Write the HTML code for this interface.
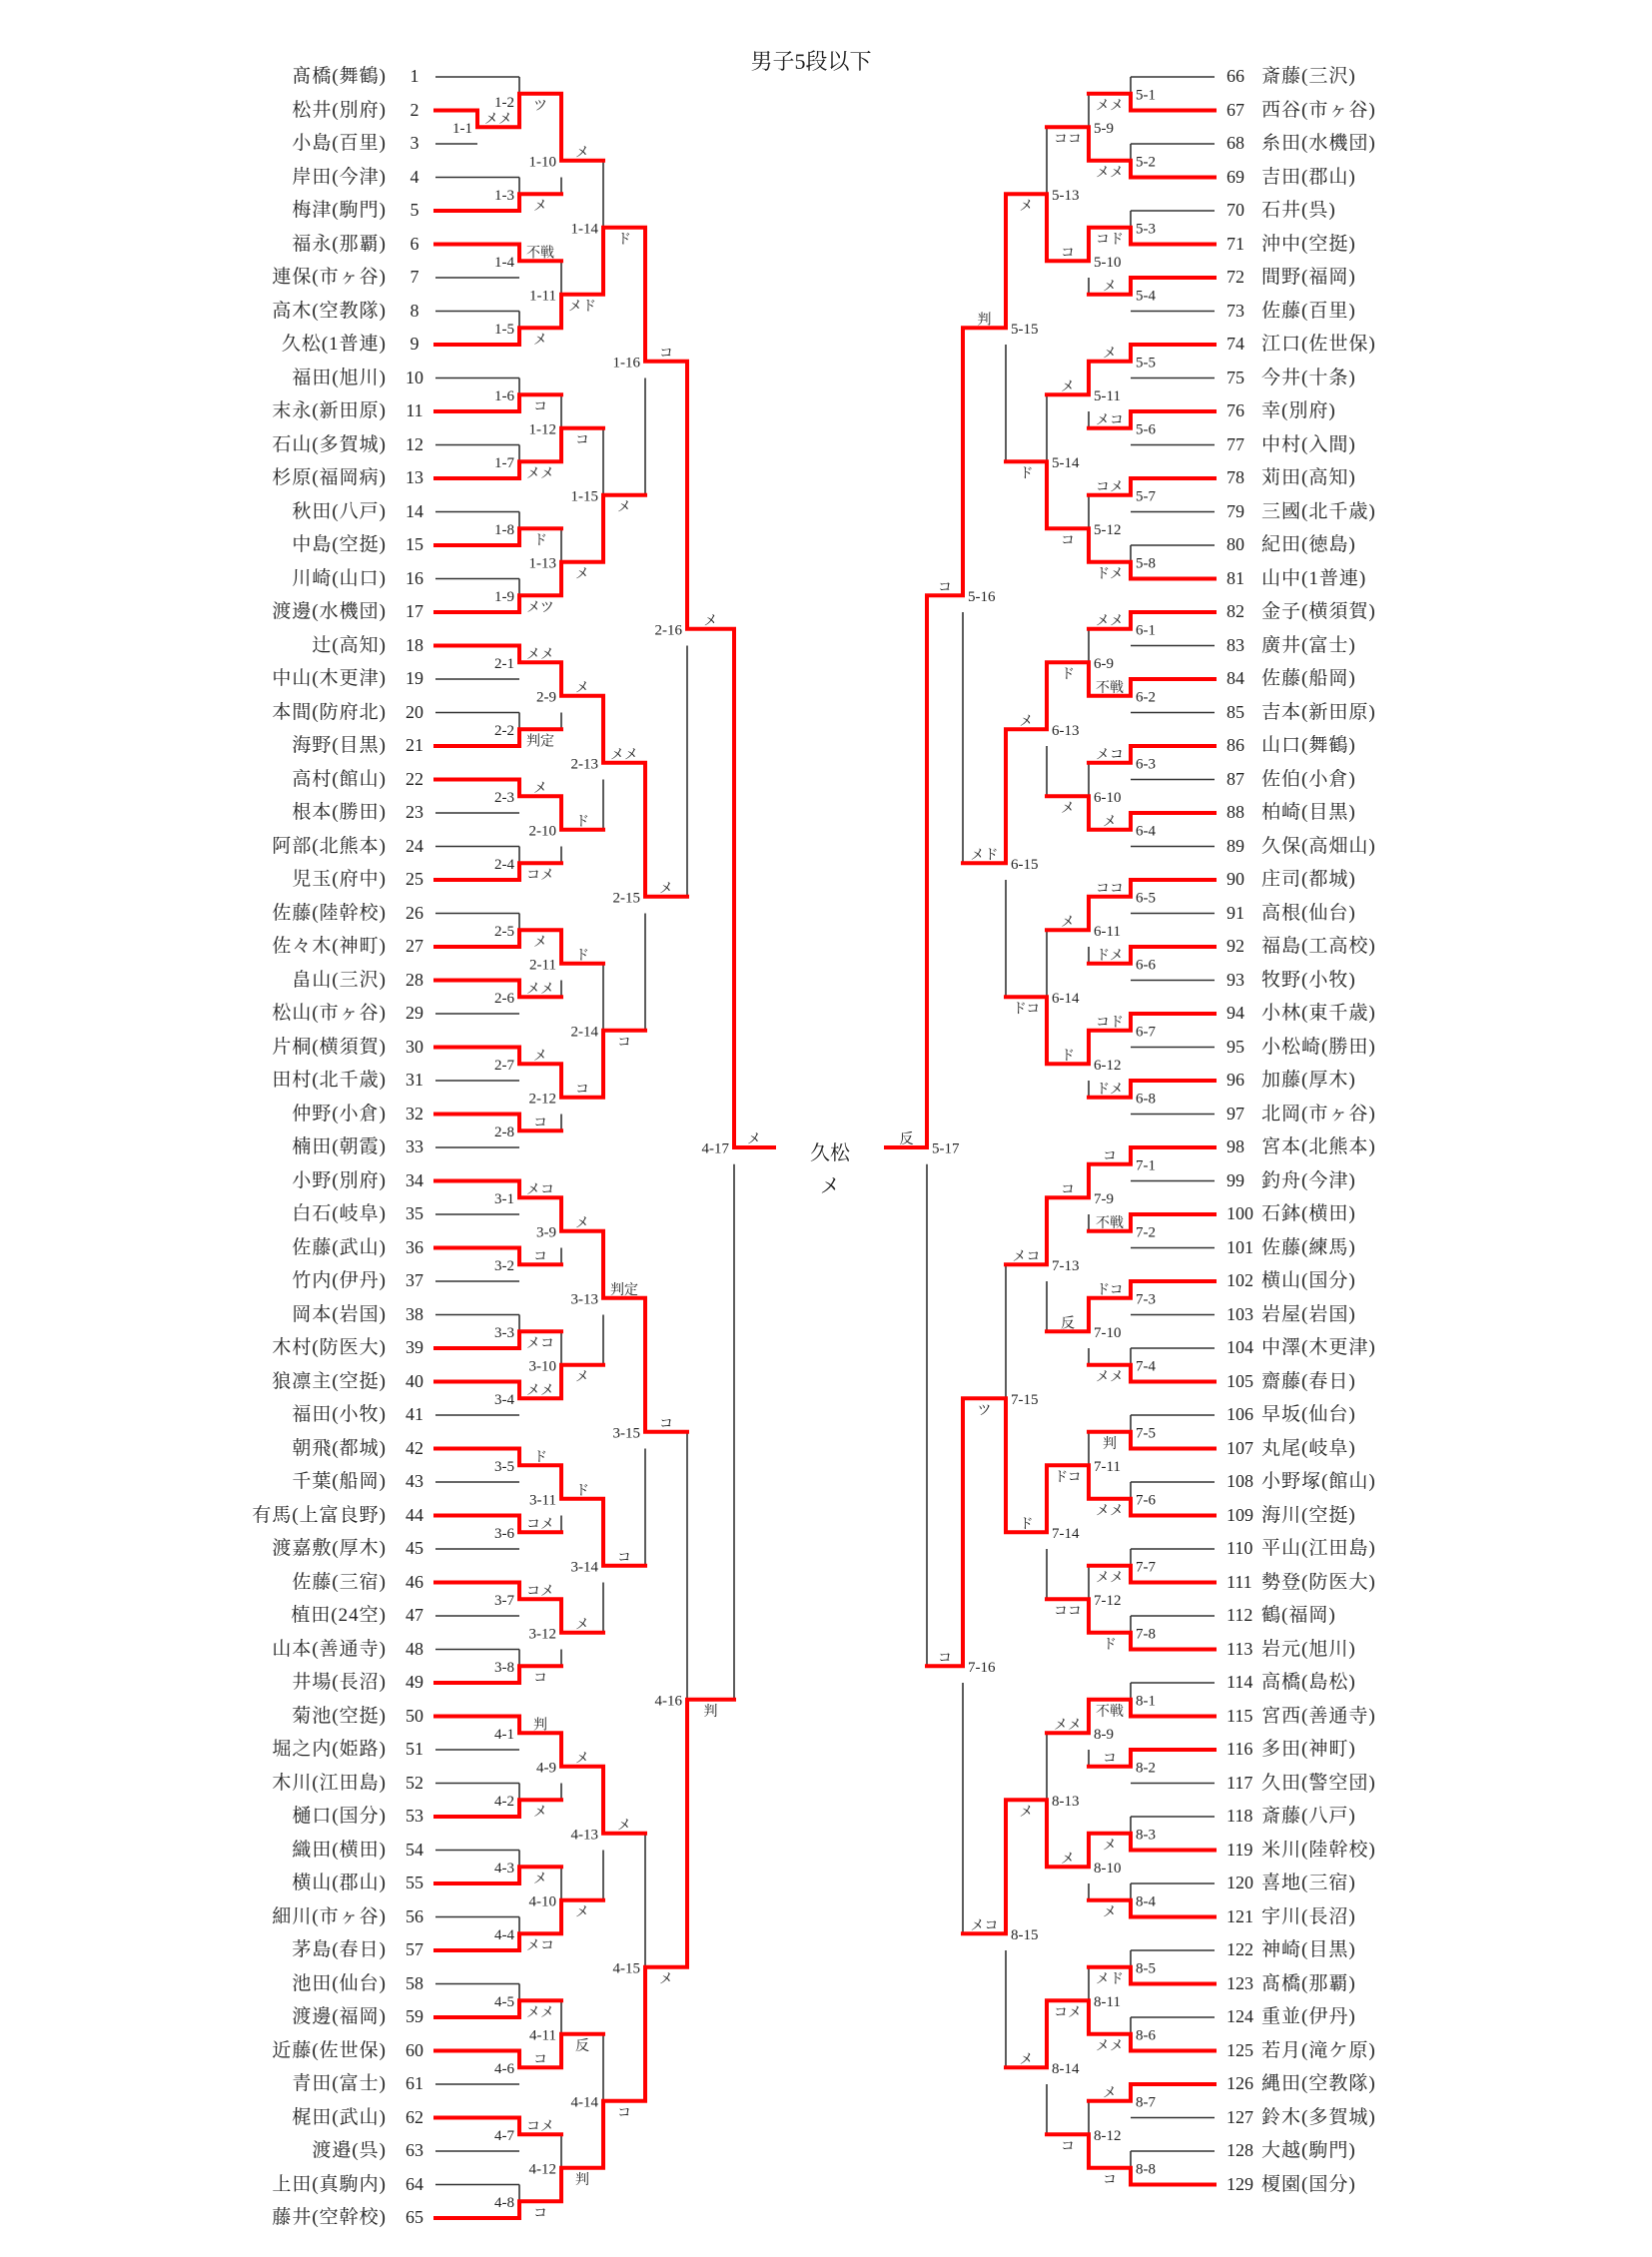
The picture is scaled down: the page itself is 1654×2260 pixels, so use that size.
<!DOCTYPE html>
<html><head><meta charset="utf-8">
<style>
html,body{margin:0;padding:0;background:#fff;}
#wrap{position:relative;width:1654px;height:2260px;overflow:hidden;background:#fff;font-family:"Liberation Serif","Noto Serif CJK SC",serif;color:#222;}
.col{position:absolute;top:60px;font-size:19px;line-height:33.5px;white-space:pre;}
#ln{right:1267px;text-align:right;letter-spacing:1px;}
#lnum{left:395px;width:40px;text-align:center;font-size:18px;}
#rnum{left:1228px;font-size:18px;}
#rn{left:1263px;letter-spacing:1px;}
svg{position:absolute;left:0;top:0;}
svg text{font-family:"Liberation Serif","Noto Serif CJK SC",serif;fill:#222;}
.a{font-size:15px;}
.b{font-size:14px;text-anchor:middle;}
</style></head><body><div id="wrap">
<div class="col" id="ln">髙橋(舞鶴)
松井(別府)
小島(百里)
岸田(今津)
梅津(駒門)
福永(那覇)
連保(市ヶ谷)
高木(空教隊)
久松(1普連)
福田(旭川)
末永(新田原)
石山(多賀城)
杉原(福岡病)
秋田(八戸)
中島(空挺)
川崎(山口)
渡邊(水機団)
辻(高知)
中山(木更津)
本間(防府北)
海野(目黒)
高村(館山)
根本(勝田)
阿部(北熊本)
児玉(府中)
佐藤(陸幹校)
佐々木(神町)
畠山(三沢)
松山(市ヶ谷)
片桐(横須賀)
田村(北千歳)
仲野(小倉)
楠田(朝霞)
小野(別府)
白石(岐阜)
佐藤(武山)
竹内(伊丹)
岡本(岩国)
木村(防医大)
狼凛主(空挺)
福田(小牧)
朝飛(都城)
千葉(船岡)
有馬(上富良野)
渡嘉敷(厚木)
佐藤(三宿)
植田(24空)
山本(善通寺)
井場(長沼)
菊池(空挺)
堀之内(姫路)
木川(江田島)
樋口(国分)
織田(横田)
横山(郡山)
細川(市ヶ谷)
茅島(春日)
池田(仙台)
渡邊(福岡)
近藤(佐世保)
青田(富士)
梶田(武山)
渡邉(呉)
上田(真駒内)
藤井(空幹校)</div>
<div class="col" id="lnum">1
2
3
4
5
6
7
8
9
10
11
12
13
14
15
16
17
18
19
20
21
22
23
24
25
26
27
28
29
30
31
32
33
34
35
36
37
38
39
40
41
42
43
44
45
46
47
48
49
50
51
52
53
54
55
56
57
58
59
60
61
62
63
64
65</div>
<div class="col" id="rnum">66
67
68
69
70
71
72
73
74
75
76
77
78
79
80
81
82
83
84
85
86
87
88
89
90
91
92
93
94
95
96
97
98
99
100
101
102
103
104
105
106
107
108
109
110
111
112
113
114
115
116
117
118
119
120
121
122
123
124
125
126
127
128
129</div>
<div class="col" id="rn">斎藤(三沢)
西谷(市ヶ谷)
糸田(水機団)
吉田(郡山)
石井(呉)
沖中(空挺)
間野(福岡)
佐藤(百里)
江口(佐世保)
今井(十条)
幸(別府)
中村(入間)
苅田(高知)
三國(北千歳)
紀田(徳島)
山中(1普連)
金子(横須賀)
廣井(富士)
佐藤(船岡)
吉本(新田原)
山口(舞鶴)
佐伯(小倉)
柏崎(目黒)
久保(高畑山)
庄司(都城)
高根(仙台)
福島(工高校)
牧野(小牧)
小林(東千歳)
小松崎(勝田)
加藤(厚木)
北岡(市ヶ谷)
宮本(北熊本)
釣舟(今津)
石鉢(横田)
佐藤(練馬)
横山(国分)
岩屋(岩国)
中澤(木更津)
齋藤(春日)
早坂(仙台)
丸尾(岐阜)
小野塚(館山)
海川(空挺)
平山(江田島)
勢登(防医大)
鶴(福岡)
岩元(旭川)
高橋(島松)
宮西(善通寺)
多田(神町)
久田(警空団)
斎藤(八戸)
米川(陸幹校)
喜地(三宿)
宇川(長沼)
神崎(目黒)
髙橋(那覇)
重並(伊丹)
若月(滝ケ原)
縄田(空教隊)
鈴木(多賀城)
大越(駒門)
榎園(国分)</div>
<svg id="sv" width="1654" height="2260" xmlns="http://www.w3.org/2000/svg">
<g id="lines"></g>
<text x="812" y="69" font-size="22" text-anchor="middle">男子5段以下</text>
<text x="831" y="1161" font-size="20" text-anchor="middle">久松</text>
<text x="831" y="1194" font-size="20" text-anchor="middle">メ</text>
<g id="labels">
<text id="a1-1" class="a">1-1</text><text id="b1-1" class="b">メメ</text>
<text id="a1-2" class="a">1-2</text><text id="b1-2" class="b">ツ</text>
<text id="a1-3" class="a">1-3</text><text id="b1-3" class="b">メ</text>
<text id="a1-4" class="a">1-4</text><text id="b1-4" class="b">不戦</text>
<text id="a1-5" class="a">1-5</text><text id="b1-5" class="b">メ</text>
<text id="a1-6" class="a">1-6</text><text id="b1-6" class="b">コ</text>
<text id="a1-7" class="a">1-7</text><text id="b1-7" class="b">メメ</text>
<text id="a1-8" class="a">1-8</text><text id="b1-8" class="b">ド</text>
<text id="a1-9" class="a">1-9</text><text id="b1-9" class="b">メツ</text>
<text id="a1-10" class="a">1-10</text><text id="b1-10" class="b">メ</text>
<text id="a1-11" class="a">1-11</text><text id="b1-11" class="b">メド</text>
<text id="a1-12" class="a">1-12</text><text id="b1-12" class="b">コ</text>
<text id="a1-13" class="a">1-13</text><text id="b1-13" class="b">メ</text>
<text id="a1-14" class="a">1-14</text><text id="b1-14" class="b">ド</text>
<text id="a1-15" class="a">1-15</text><text id="b1-15" class="b">メ</text>
<text id="a1-16" class="a">1-16</text><text id="b1-16" class="b">コ</text>
<text id="a2-1" class="a">2-1</text><text id="b2-1" class="b">メメ</text>
<text id="a2-2" class="a">2-2</text><text id="b2-2" class="b">判定</text>
<text id="a2-3" class="a">2-3</text><text id="b2-3" class="b">メ</text>
<text id="a2-4" class="a">2-4</text><text id="b2-4" class="b">コメ</text>
<text id="a2-5" class="a">2-5</text><text id="b2-5" class="b">メ</text>
<text id="a2-6" class="a">2-6</text><text id="b2-6" class="b">メメ</text>
<text id="a2-7" class="a">2-7</text><text id="b2-7" class="b">メ</text>
<text id="a2-8" class="a">2-8</text><text id="b2-8" class="b">コ</text>
<text id="a2-9" class="a">2-9</text><text id="b2-9" class="b">メ</text>
<text id="a2-10" class="a">2-10</text><text id="b2-10" class="b">ド</text>
<text id="a2-11" class="a">2-11</text><text id="b2-11" class="b">ド</text>
<text id="a2-12" class="a">2-12</text><text id="b2-12" class="b">コ</text>
<text id="a2-13" class="a">2-13</text><text id="b2-13" class="b">メメ</text>
<text id="a2-14" class="a">2-14</text><text id="b2-14" class="b">コ</text>
<text id="a2-15" class="a">2-15</text><text id="b2-15" class="b">メ</text>
<text id="a2-16" class="a">2-16</text><text id="b2-16" class="b">メ</text>
<text id="a3-1" class="a">3-1</text><text id="b3-1" class="b">メコ</text>
<text id="a3-2" class="a">3-2</text><text id="b3-2" class="b">コ</text>
<text id="a3-3" class="a">3-3</text><text id="b3-3" class="b">メコ</text>
<text id="a3-4" class="a">3-4</text><text id="b3-4" class="b">メメ</text>
<text id="a3-5" class="a">3-5</text><text id="b3-5" class="b">ド</text>
<text id="a3-6" class="a">3-6</text><text id="b3-6" class="b">コメ</text>
<text id="a3-7" class="a">3-7</text><text id="b3-7" class="b">コメ</text>
<text id="a3-8" class="a">3-8</text><text id="b3-8" class="b">コ</text>
<text id="a3-9" class="a">3-9</text><text id="b3-9" class="b">メ</text>
<text id="a3-10" class="a">3-10</text><text id="b3-10" class="b">メ</text>
<text id="a3-11" class="a">3-11</text><text id="b3-11" class="b">ド</text>
<text id="a3-12" class="a">3-12</text><text id="b3-12" class="b">メ</text>
<text id="a3-13" class="a">3-13</text><text id="b3-13" class="b">判定</text>
<text id="a3-14" class="a">3-14</text><text id="b3-14" class="b">コ</text>
<text id="a3-15" class="a">3-15</text><text id="b3-15" class="b">コ</text>
<text id="a4-1" class="a">4-1</text><text id="b4-1" class="b">判</text>
<text id="a4-2" class="a">4-2</text><text id="b4-2" class="b">メ</text>
<text id="a4-3" class="a">4-3</text><text id="b4-3" class="b">メ</text>
<text id="a4-4" class="a">4-4</text><text id="b4-4" class="b">メコ</text>
<text id="a4-5" class="a">4-5</text><text id="b4-5" class="b">メメ</text>
<text id="a4-6" class="a">4-6</text><text id="b4-6" class="b">コ</text>
<text id="a4-7" class="a">4-7</text><text id="b4-7" class="b">コメ</text>
<text id="a4-8" class="a">4-8</text><text id="b4-8" class="b">コ</text>
<text id="a4-9" class="a">4-9</text><text id="b4-9" class="b">メ</text>
<text id="a4-10" class="a">4-10</text><text id="b4-10" class="b">メ</text>
<text id="a4-11" class="a">4-11</text><text id="b4-11" class="b">反</text>
<text id="a4-12" class="a">4-12</text><text id="b4-12" class="b">判</text>
<text id="a4-13" class="a">4-13</text><text id="b4-13" class="b">メ</text>
<text id="a4-14" class="a">4-14</text><text id="b4-14" class="b">コ</text>
<text id="a4-15" class="a">4-15</text><text id="b4-15" class="b">メ</text>
<text id="a4-16" class="a">4-16</text><text id="b4-16" class="b">判</text>
<text id="a4-17" class="a">4-17</text><text id="b4-17" class="b">メ</text>
<text id="a5-1" class="a">5-1</text><text id="b5-1" class="b">メメ</text>
<text id="a5-2" class="a">5-2</text><text id="b5-2" class="b">メメ</text>
<text id="a5-3" class="a">5-3</text><text id="b5-3" class="b">コド</text>
<text id="a5-4" class="a">5-4</text><text id="b5-4" class="b">メ</text>
<text id="a5-5" class="a">5-5</text><text id="b5-5" class="b">メ</text>
<text id="a5-6" class="a">5-6</text><text id="b5-6" class="b">メコ</text>
<text id="a5-7" class="a">5-7</text><text id="b5-7" class="b">コメ</text>
<text id="a5-8" class="a">5-8</text><text id="b5-8" class="b">ドメ</text>
<text id="a5-9" class="a">5-9</text><text id="b5-9" class="b">ココ</text>
<text id="a5-10" class="a">5-10</text><text id="b5-10" class="b">コ</text>
<text id="a5-11" class="a">5-11</text><text id="b5-11" class="b">メ</text>
<text id="a5-12" class="a">5-12</text><text id="b5-12" class="b">コ</text>
<text id="a5-13" class="a">5-13</text><text id="b5-13" class="b">メ</text>
<text id="a5-14" class="a">5-14</text><text id="b5-14" class="b">ド</text>
<text id="a5-15" class="a">5-15</text><text id="b5-15" class="b">判</text>
<text id="a5-16" class="a">5-16</text><text id="b5-16" class="b">コ</text>
<text id="a5-17" class="a">5-17</text><text id="b5-17" class="b">反</text>
<text id="a6-1" class="a">6-1</text><text id="b6-1" class="b">メメ</text>
<text id="a6-2" class="a">6-2</text><text id="b6-2" class="b">不戦</text>
<text id="a6-3" class="a">6-3</text><text id="b6-3" class="b">メコ</text>
<text id="a6-4" class="a">6-4</text><text id="b6-4" class="b">メ</text>
<text id="a6-5" class="a">6-5</text><text id="b6-5" class="b">ココ</text>
<text id="a6-6" class="a">6-6</text><text id="b6-6" class="b">ドメ</text>
<text id="a6-7" class="a">6-7</text><text id="b6-7" class="b">コド</text>
<text id="a6-8" class="a">6-8</text><text id="b6-8" class="b">ドメ</text>
<text id="a6-9" class="a">6-9</text><text id="b6-9" class="b">ド</text>
<text id="a6-10" class="a">6-10</text><text id="b6-10" class="b">メ</text>
<text id="a6-11" class="a">6-11</text><text id="b6-11" class="b">メ</text>
<text id="a6-12" class="a">6-12</text><text id="b6-12" class="b">ド</text>
<text id="a6-13" class="a">6-13</text><text id="b6-13" class="b">メ</text>
<text id="a6-14" class="a">6-14</text><text id="b6-14" class="b">ドコ</text>
<text id="a6-15" class="a">6-15</text><text id="b6-15" class="b">メド</text>
<text id="a7-1" class="a">7-1</text><text id="b7-1" class="b">コ</text>
<text id="a7-2" class="a">7-2</text><text id="b7-2" class="b">不戦</text>
<text id="a7-3" class="a">7-3</text><text id="b7-3" class="b">ドコ</text>
<text id="a7-4" class="a">7-4</text><text id="b7-4" class="b">メメ</text>
<text id="a7-5" class="a">7-5</text><text id="b7-5" class="b">判</text>
<text id="a7-6" class="a">7-6</text><text id="b7-6" class="b">メメ</text>
<text id="a7-7" class="a">7-7</text><text id="b7-7" class="b">メメ</text>
<text id="a7-8" class="a">7-8</text><text id="b7-8" class="b">ド</text>
<text id="a7-9" class="a">7-9</text><text id="b7-9" class="b">コ</text>
<text id="a7-10" class="a">7-10</text><text id="b7-10" class="b">反</text>
<text id="a7-11" class="a">7-11</text><text id="b7-11" class="b">ドコ</text>
<text id="a7-12" class="a">7-12</text><text id="b7-12" class="b">ココ</text>
<text id="a7-13" class="a">7-13</text><text id="b7-13" class="b">メコ</text>
<text id="a7-14" class="a">7-14</text><text id="b7-14" class="b">ド</text>
<text id="a7-15" class="a">7-15</text><text id="b7-15" class="b">ツ</text>
<text id="a7-16" class="a">7-16</text><text id="b7-16" class="b">コ</text>
<text id="a8-1" class="a">8-1</text><text id="b8-1" class="b">不戦</text>
<text id="a8-2" class="a">8-2</text><text id="b8-2" class="b">コ</text>
<text id="a8-3" class="a">8-3</text><text id="b8-3" class="b">メ</text>
<text id="a8-4" class="a">8-4</text><text id="b8-4" class="b">メ</text>
<text id="a8-5" class="a">8-5</text><text id="b8-5" class="b">メド</text>
<text id="a8-6" class="a">8-6</text><text id="b8-6" class="b">メメ</text>
<text id="a8-7" class="a">8-7</text><text id="b8-7" class="b">メ</text>
<text id="a8-8" class="a">8-8</text><text id="b8-8" class="b">コ</text>
<text id="a8-9" class="a">8-9</text><text id="b8-9" class="b">メメ</text>
<text id="a8-10" class="a">8-10</text><text id="b8-10" class="b">メ</text>
<text id="a8-11" class="a">8-11</text><text id="b8-11" class="b">コメ</text>
<text id="a8-12" class="a">8-12</text><text id="b8-12" class="b">コ</text>
<text id="a8-13" class="a">8-13</text><text id="b8-13" class="b">メ</text>
<text id="a8-14" class="a">8-14</text><text id="b8-14" class="b">メ</text>
<text id="a8-15" class="a">8-15</text><text id="b8-15" class="b">メコ</text>
</g>
</svg>
</div>
<script>
(function(){
var WIN={
1:[0,1,1,0,1,1,1,1,1,0,1,1,1,1,1,0],
2:[0,1,0,1,1,0,0,0,0,0,0,0,0,1,0,0],
3:[0,0,1,0,0,0,0,1,0,1,0,0,0,0,0],
4:[0,1,1,1,1,0,0,1,0,1,1,1,0,1,1,1,0],
5:[1,1,1,0,0,0,0,1,1,0,0,1,1,1,0,0,0],
6:[0,0,0,0,0,0,0,0,1,1,0,0,0,1,0],
7:[0,0,0,1,1,1,1,1,0,0,1,1,0,0,1,0],
8:[1,0,1,1,1,1,0,1,0,0,1,1,1,0,0]};
var XL={0:436,0.5:478,1:520,2:562,3:604,4:646,5:688,6:735,7:775};
var XR={0:1216,1:1132,2:1090,3:1048,4:1007,5:964,6:928,7:887};
function Y(r){return 77+(r-1)*33.5;}
var M={},order=[];
function p(n){return {p:n,row:n<=65?n:n-65,lvl:0};}
function rowOf(c){return typeof c==='string'?M[c].row:c.row;}
function lvlOf(c){return typeof c==='string'?M[c].lvl:0;}
function mk(id,a,b,lvl,side,ro){
  var s=id.split('-'),blk=+s[0],idx=+s[1];
  var row=(ro!==undefined)?ro:(rowOf(a)+rowOf(b))/2;
  M[id]={id:id,a:a,b:b,lvl:lvl,side:side,w:WIN[blk][idx-1],row:row};order.push(id);
}
function block(k,s,side){
  var i;
  for(i=0;i<8;i++)mk(k+'-'+(i+1),p(s+2*i),p(s+2*i+1),1,side);
  for(i=0;i<4;i++)mk(k+'-'+(9+i),k+'-'+(2*i+1),k+'-'+(2*i+2),2,side);
  mk(k+'-13',k+'-9',k+'-10',3,side);mk(k+'-14',k+'-11',k+'-12',3,side);
  mk(k+'-15',k+'-13',k+'-14',4,side);
}
mk('1-1',p(2),p(3),0.5,'L');mk('1-2',p(1),'1-1',1,'L',1.5);
for(var i=0;i<7;i++)mk('1-'+(3+i),p(4+2*i),p(5+2*i),1,'L');
mk('1-10','1-2','1-3',2,'L',3.5);mk('1-11','1-4','1-5',2,'L');mk('1-12','1-6','1-7',2,'L');mk('1-13','1-8','1-9',2,'L');
mk('1-14','1-10','1-11',3,'L');mk('1-15','1-12','1-13',3,'L');mk('1-16','1-14','1-15',4,'L');
block(2,18,'L');block(3,34,'L');block(4,50,'L');
block(5,66,'R');block(6,82,'R');block(7,98,'R');block(8,114,'R');
mk('2-16','1-16','2-15',5,'L');mk('4-16','3-15','4-15',5,'L');mk('4-17','2-16','4-16',6,'L',33);
mk('5-16','5-15','6-15',5,'R');mk('7-16','7-15','8-15',5,'R');mk('5-17','5-16','7-16',6,'R',33);
var blk=[],red=[];
function L(arr,x1,y1,x2,y2){arr.push('M'+x1+' '+y1.toFixed(1)+'L'+x2+' '+y2.toFixed(1));}
order.forEach(function(id){
  var m=M[id],X=m.side==='L'?XL:XR,xv=X[m.lvl];
  var ra=rowOf(m.a),rb=rowOf(m.b),yo=Y(m.row);
  [m.a,m.b].forEach(function(c,k){
    var xs=X[lvlOf(c)],yc=Y(rowOf(c));
    var isP=typeof c!=='string';
    L((isP&&k!==m.w)?blk:red,xs,yc,xv,yc);
  });
  var rw=m.w?rb:ra;
  L(red,xv,Y(rw),xv,yo);
  if(m.w===0){ if(rb>m.row+0.5) L(blk,xv,Y(m.row+0.5),xv,Y(rb)); }
  else L(blk,xv,Y(ra),xv,yo);
  var a=document.getElementById('a'+id),b=document.getElementById('b'+id);
  if(a){
    if(m.side==='L'){a.setAttribute('x',xv-5);a.setAttribute('text-anchor','end');}
    else{a.setAttribute('x',xv+5);a.setAttribute('text-anchor','start');}
    a.setAttribute('y',(yo+(id==='1-2'?13:5.5)).toFixed(1));
  }
  if(b){
    var nl=m.lvl===0.5?1:m.lvl+1,xn=X[nl];
    b.setAttribute('x',((xv+xn)/2).toFixed(1));
    b.setAttribute('y',(m.w?yo+16:yo-4).toFixed(1));
  }
});
var yf=Y(33);
L(red,XL[6],yf,XL[7],yf);L(red,XR[6],yf,XR[7],yf);
var g=document.getElementById('lines');
g.innerHTML='<path d="'+blk.join('')+'" stroke="#333" stroke-width="1.6" fill="none"/>'+
 '<path d="'+red.join('')+'" stroke="#ff0000" stroke-width="4" fill="none" stroke-linecap="square"/>';
})();
</script>
</body></html>
